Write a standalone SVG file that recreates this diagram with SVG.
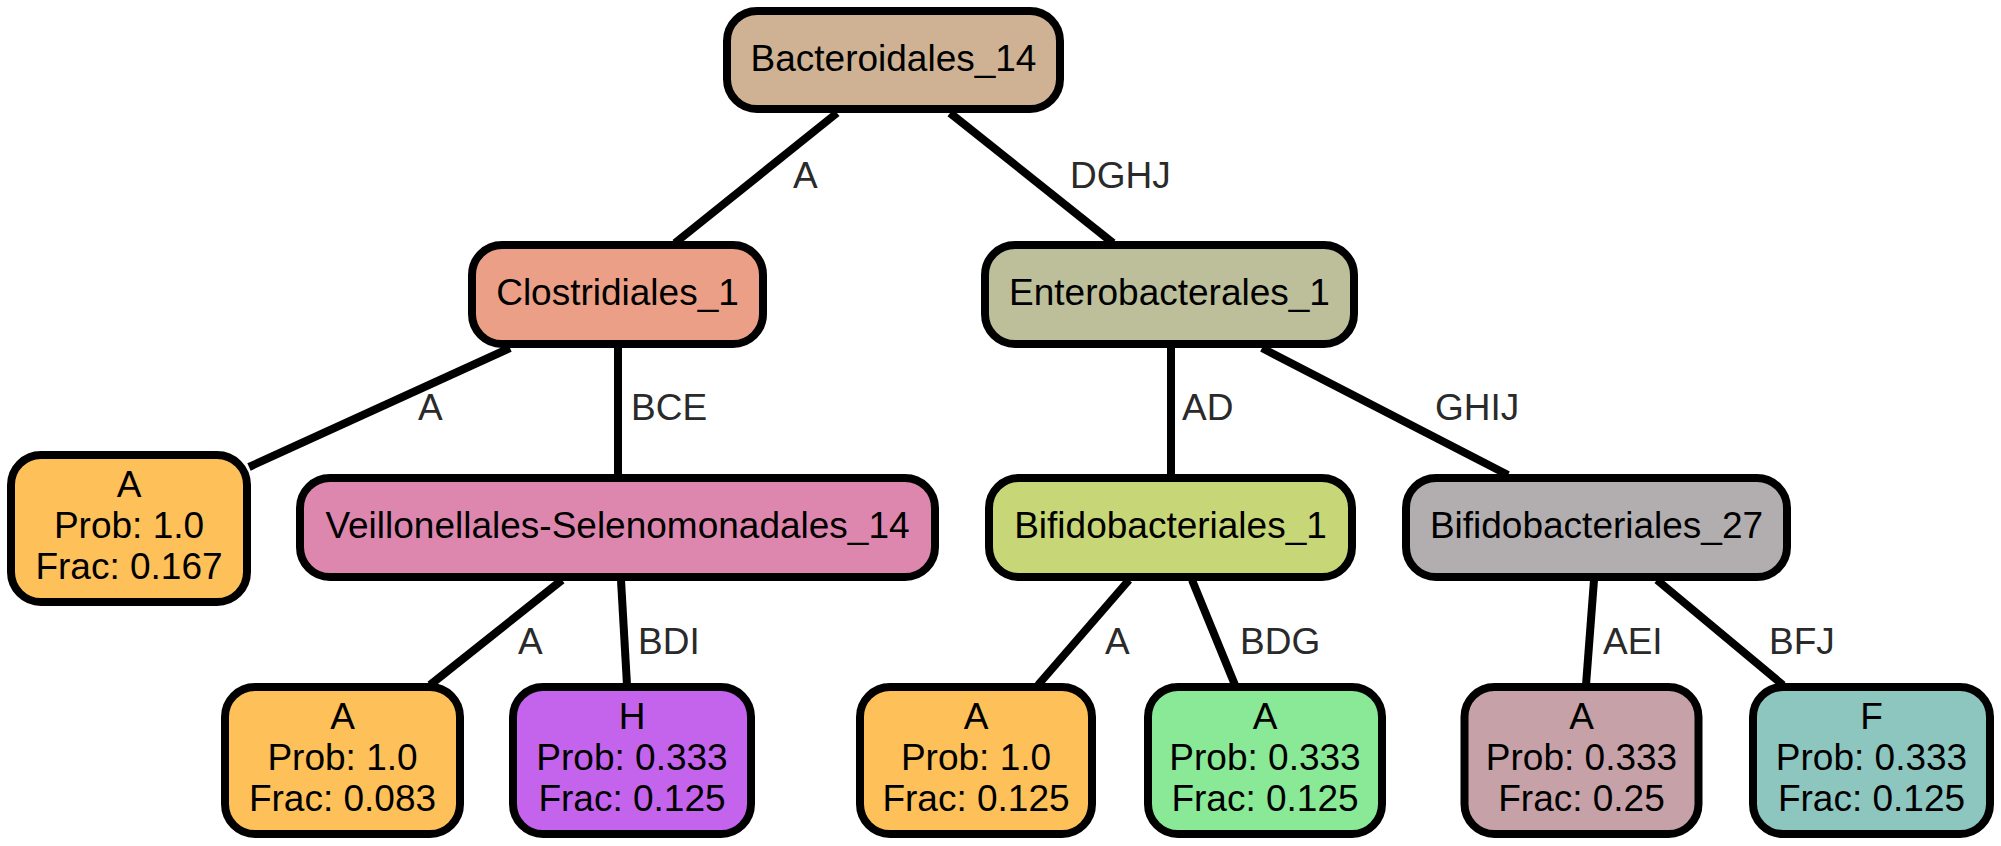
<svg xmlns="http://www.w3.org/2000/svg" width="2001" height="846" viewBox="0 0 2001 846">
<style>
.n rect{stroke:#000;stroke-width:8}
.n text{font-family:"Liberation Sans",Arial,Helvetica,sans-serif;font-size:37px;fill:#000;text-anchor:middle}
.e line{stroke:#000;stroke-width:8}
.e text{font-family:"Liberation Sans",Arial,Helvetica,sans-serif;font-size:37px;fill:#2a2a2a}
</style>
<rect width="2001" height="846" fill="#fff"/>
<g class="e" id="connectors">
<line x1="837" y1="113" x2="675" y2="243"/>
<line x1="950" y1="113" x2="1113" y2="243"/>
<line x1="510" y1="348" x2="249" y2="467"/>
<line x1="618" y1="348" x2="618" y2="475"/>
<line x1="1171" y1="348" x2="1171" y2="475"/>
<line x1="1262" y1="348" x2="1508" y2="475"/>
<line x1="562" y1="580" x2="430" y2="685"/>
<line x1="621" y1="580" x2="627" y2="685"/>
<line x1="1129" y1="580" x2="1038" y2="685"/>
<line x1="1192" y1="580" x2="1235" y2="685"/>
<line x1="1594" y1="580" x2="1586" y2="685"/>
<line x1="1657" y1="580" x2="1783" y2="685"/>
<text x="793" y="188">A</text>
<text x="1070" y="188">DGHJ</text>
<text x="418" y="420">A</text>
<text x="631" y="420">BCE</text>
<text x="1182" y="420">AD</text>
<text x="1435" y="420">GHIJ</text>
<text x="518" y="654">A</text>
<text x="638" y="654">BDI</text>
<text x="1105" y="654">A</text>
<text x="1240" y="654">BDG</text>
<text x="1603" y="654">AEI</text>
<text x="1769" y="654">BFJ</text>
</g>
<g class="n" id="bacteroidales_14">
<rect x="727" y="11" width="333" height="98" rx="30" fill="#CEB293"/>
<text x="893.5" y="71">Bacteroidales_14</text>
</g>
<g class="n" id="clostridiales_1">
<rect x="472" y="245" width="291" height="99" rx="30" fill="#EB9F86"/>
<text x="617.5" y="305">Clostridiales_1</text>
</g>
<g class="n" id="enterobacterales_1">
<rect x="985" y="245" width="369" height="99" rx="30" fill="#BCBF9A"/>
<text x="1169.5" y="305">Enterobacterales_1</text>
</g>
<g class="n" id="leaf_a_0167">
<rect x="11" y="455" width="236" height="147" rx="30" fill="#FEC058"/>
<text x="129" y="497">A</text>
<text x="129" y="538">Prob: 1.0</text>
<text x="129" y="579">Frac: 0.167</text>
</g>
<g class="n" id="veillonellales_14">
<rect x="300" y="478" width="635" height="99" rx="30" fill="#DD87AE"/>
<text x="617.5" y="538">Veillonellales-Selenomonadales_14</text>
</g>
<g class="n" id="bifidobacteriales_1">
<rect x="989" y="478" width="363" height="99" rx="30" fill="#C7D676"/>
<text x="1170.5" y="538">Bifidobacteriales_1</text>
</g>
<g class="n" id="bifidobacteriales_27">
<rect x="1406" y="478" width="381" height="99" rx="30" fill="#B2AEAF"/>
<text x="1596.5" y="538">Bifidobacteriales_27</text>
</g>
<g class="n" id="leaf_a_0083">
<rect x="225" y="687" width="235" height="147" rx="30" fill="#FEC058"/>
<text x="342.5" y="729">A</text>
<text x="342.5" y="770">Prob: 1.0</text>
<text x="342.5" y="811">Frac: 0.083</text>
</g>
<g class="n" id="leaf_h">
<rect x="513" y="687" width="238" height="147" rx="30" fill="#C463EC"/>
<text x="632" y="729">H</text>
<text x="632" y="770">Prob: 0.333</text>
<text x="632" y="811">Frac: 0.125</text>
</g>
<g class="n" id="leaf_a_0125">
<rect x="860" y="687" width="232" height="147" rx="30" fill="#FEC058"/>
<text x="976" y="729">A</text>
<text x="976" y="770">Prob: 1.0</text>
<text x="976" y="811">Frac: 0.125</text>
</g>
<g class="n" id="leaf_a_green">
<rect x="1148" y="687" width="234" height="147" rx="30" fill="#8AE997"/>
<text x="1265" y="729">A</text>
<text x="1265" y="770">Prob: 0.333</text>
<text x="1265" y="811">Frac: 0.125</text>
</g>
<g class="n" id="leaf_a_025">
<rect x="1464.5" y="687" width="234" height="147" rx="30" fill="#C6A1A7"/>
<text x="1581.5" y="729">A</text>
<text x="1581.5" y="770">Prob: 0.333</text>
<text x="1581.5" y="811">Frac: 0.25</text>
</g>
<g class="n" id="leaf_f">
<rect x="1753" y="687" width="237" height="147" rx="30" fill="#8DC5BF"/>
<text x="1871.5" y="729">F</text>
<text x="1871.5" y="770">Prob: 0.333</text>
<text x="1871.5" y="811">Frac: 0.125</text>
</g>
</svg>
